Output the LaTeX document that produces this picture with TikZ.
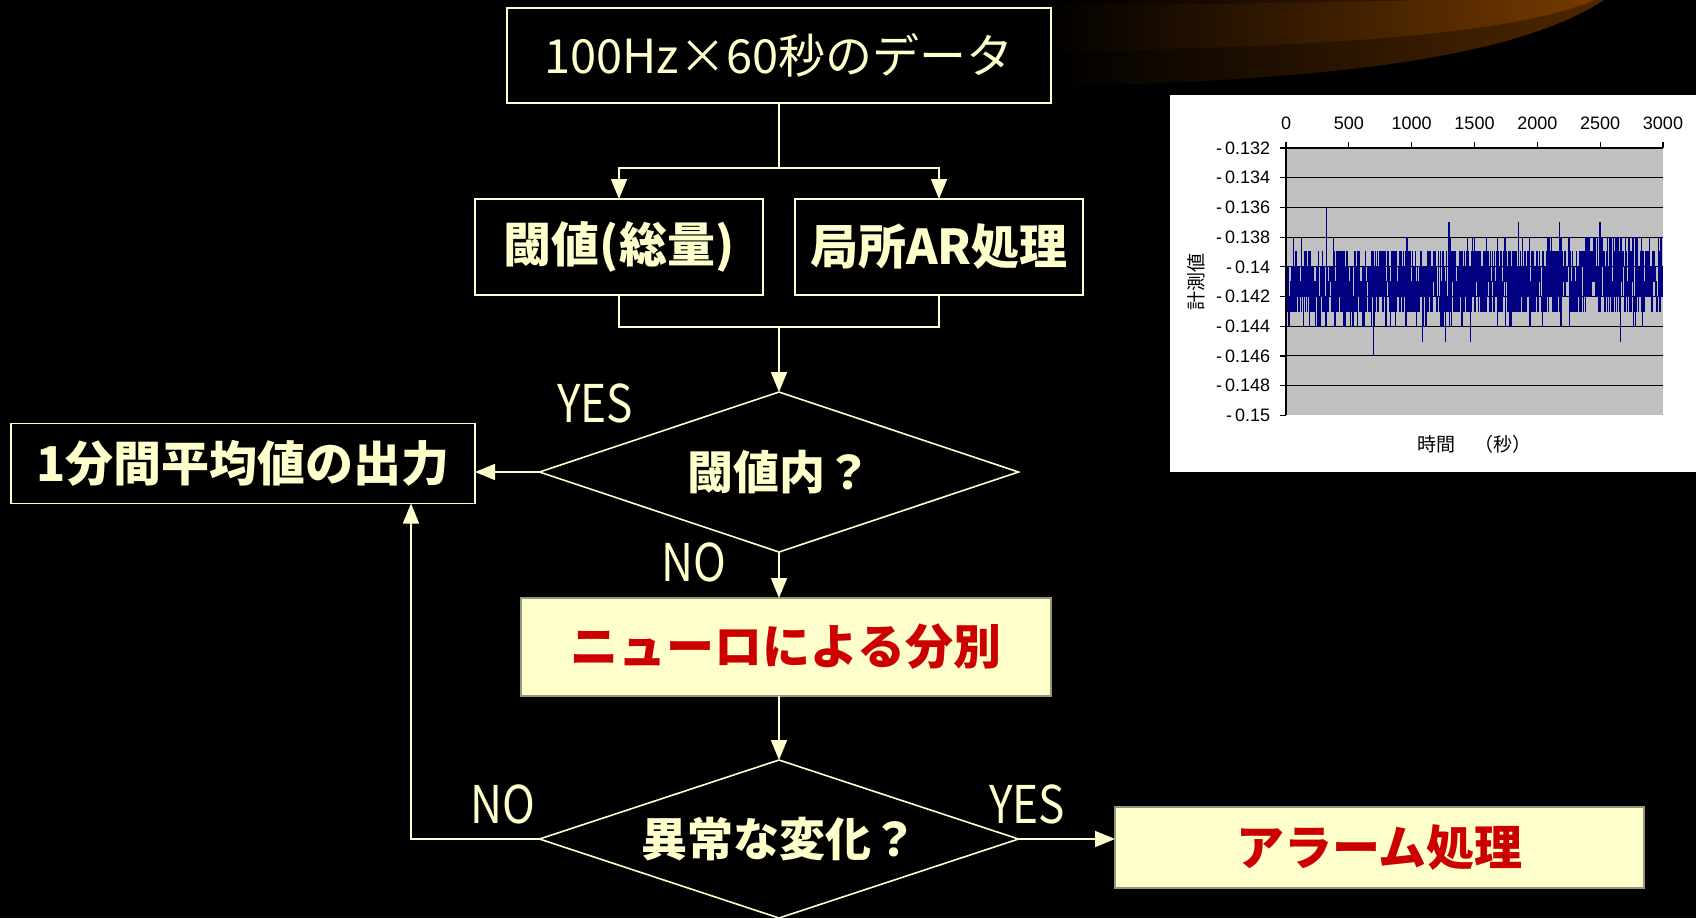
\documentclass[tikz,border=0pt]{standalone}
\usepackage{fontspec}
\setmainfont{Noto Sans CJK JP}
\newfontfamily\narrowfont[FakeStretch=0.85]{Noto Sans CJK JP}
\newfontfamily\chartfont{Liberation Sans}
\usetikzlibrary{shapes.geometric,arrows.meta}

\definecolor{cream}{RGB}{255,255,204}
\definecolor{alarmred}{RGB}{204,0,0}
\definecolor{boxedge}{RGB}{150,150,120}
\definecolor{plotgray}{RGB}{192,192,192}
\definecolor{signalblue}{RGB}{0,0,128}
\definecolor{swooshlight}{RGB}{118,58,0}
\definecolor{swooshdark}{RGB}{80,39,0}

\tikzset{every picture/.style={line width=0.8pt},
  link/.style={draw=cream},
  flow/.style={draw=cream,-{Triangle[length=10pt,width=8pt]}},
  procbox/.style={draw=cream,fill=black,text=cream,inner sep=0pt,outer sep=0pt,
    font=\fontsize{24pt}{28pt}\selectfont\bfseries},
  hotbox/.style={draw=boxedge,fill=cream,text=alarmred,inner sep=0pt,outer sep=0pt,
    font=\fontsize{24pt}{28pt}\selectfont\bfseries},
  decision/.style={diamond,aspect=3,draw=cream,fill=black,text=cream,inner sep=0pt,outer sep=0pt,
    minimum width=239.5pt,font=\fontsize{23pt}{26pt}\selectfont\bfseries},
  answer/.style={text=cream,inner sep=0pt,font=\narrowfont\fontsize{26pt}{28pt}\selectfont},
  ticklabel/.style={inner sep=0pt,font=\chartfont\fontsize{9pt}{10pt}\selectfont},
  axistitle/.style={inner sep=0pt,font=\fontsize{9.5pt}{10pt}\selectfont},
}

\begin{document}
\begin{tikzpicture}[x=0.5pt,y=0.5pt,yscale=-1]
	\useasboundingbox (0,0) rectangle (1696,918);
	\fill[black] (0,0) rectangle (1696,918);

	% Brown swoosh top right
	\shade[left color=black,right color=swooshdark] (1050,0) -- (1604,0) .. controls (1530,48) and (1380,80) .. (1058,86) -- cycle;
	\shade[left color=black,right color=swooshlight] (1044,5) .. controls (1250,4) and (1350,2) .. (1420,0) -- (1595,0) .. controls (1520,30) and (1380,46) .. (1044,52) -- cycle;

	% Flow chart boxes
	\node[procbox,minimum width=272pt,minimum height=47.5pt,font=\fontsize{23.5pt}{28pt}\selectfont] (data) at (779,55.5) {100Hz×60秒のデータ};
	\node[procbox,minimum width=144pt,minimum height=48pt] (thresh) at (619,247) {閾値(総量)};
	\node[procbox,minimum width=144pt,minimum height=48pt] (localar) at (939,247) {局所AR処理};
	\node[decision,minimum height=80pt] (judge1) at (779,472) {閾値内？};
	\node[procbox,minimum width=232pt,minimum height=40pt] (output) at (243,463.5) {1分間平均値の出力};
	\node[hotbox,minimum width=265pt,minimum height=49pt] (neuro) at (786,647) {ニューロによる分別};
	\node[decision,minimum height=79pt] (judge2) at (779,839) {異常な変化？};
	\node[hotbox,minimum width=264.5pt,minimum height=40.5pt] (alarm) at (1379.5,847.5) {アラーム処理};

	% Yes / no labels
	\node[answer] (yes1) at (595,403) {YES};
	\node[answer] (no1) at (694,562) {NO};
	\node[answer] (no2) at (503,804) {NO};
	\node[answer] (yes2) at (1027,804) {YES};

	% Connectors
	\coordinate (split) at (779,168);
	\coordinate (merge) at (779,327);
	\coordinate (loop) at (411,839);
	\draw[link] (data.south) -- (split);
	\draw[flow] (split) -| (thresh.north);
	\draw[flow] (split) -| (localar.north);
	\draw[link] (thresh.south) |- (merge);
	\draw[link] (localar.south) |- (merge);
	\draw[flow] (merge) -- (judge1.north);
	\draw[flow] (judge1.west) -- (judge1.west -| output.east);
	\draw[flow] (judge1.south) -- (judge1.south |- neuro.north);
	\draw[flow] (neuro.south -| judge2.north) -- (judge2.north);
	\draw[flow] (judge2.east) -- (judge2.east -| alarm.west);
	\draw[flow] (judge2.west) -- (loop) -- (loop |- output.south);

	% Measurement chart
	\fill[white] (1170,95) rectangle (1696,472);
	\fill[plotgray] (1286,148) rectangle (1663,415);
	\foreach \i in {1,...,8}
		\draw[black,line width=0.5pt] (1286,148+29.7*\i) -- (1663,148+29.7*\i);
	\begin{scope}
		\clip (1286,148) rectangle (1663,415);
		\pgfmathsetseed{20}
		\draw[signalblue,line width=0.5pt] plot[const plot,samples=1500,domain=1287:1662]
			(\x,{148+14.85*round(9.5-1.0*(\x-1286)/377+2.5*rand+8*rand*rand*rand*rand*rand)});
	\end{scope}
	\draw[black,line width=0.6pt] (1663,148) -- (1286,148) -- (1286,415);
	\foreach \v [count=\i from 0] in {132,134,136,138,14,142,144,146,148,15} {
		\draw[black,line width=0.6pt] (1280,148+29.7*\i) -- (1286,148+29.7*\i);
		\node[ticklabel,anchor=east] (ylab\i) at (1271,148+29.7*\i) {-\,0.\v};
	}
	\foreach \t [count=\i from 0] in {0,500,1000,1500,2000,2500,3000} {
		\draw[black,line width=0.6pt] (1286+62.83*\i,142) -- (1286+62.83*\i,148);
		\node[ticklabel,anchor=base] (xlab\i) at (1286+62.83*\i,129) {\t};
	}
	\node[axistitle,rotate=90] (ytitle) at (1196,282) {計測値};
	\node[axistitle] (xtitle) at (1474,444) {時間　（秒）};
\end{tikzpicture}
\end{document}
